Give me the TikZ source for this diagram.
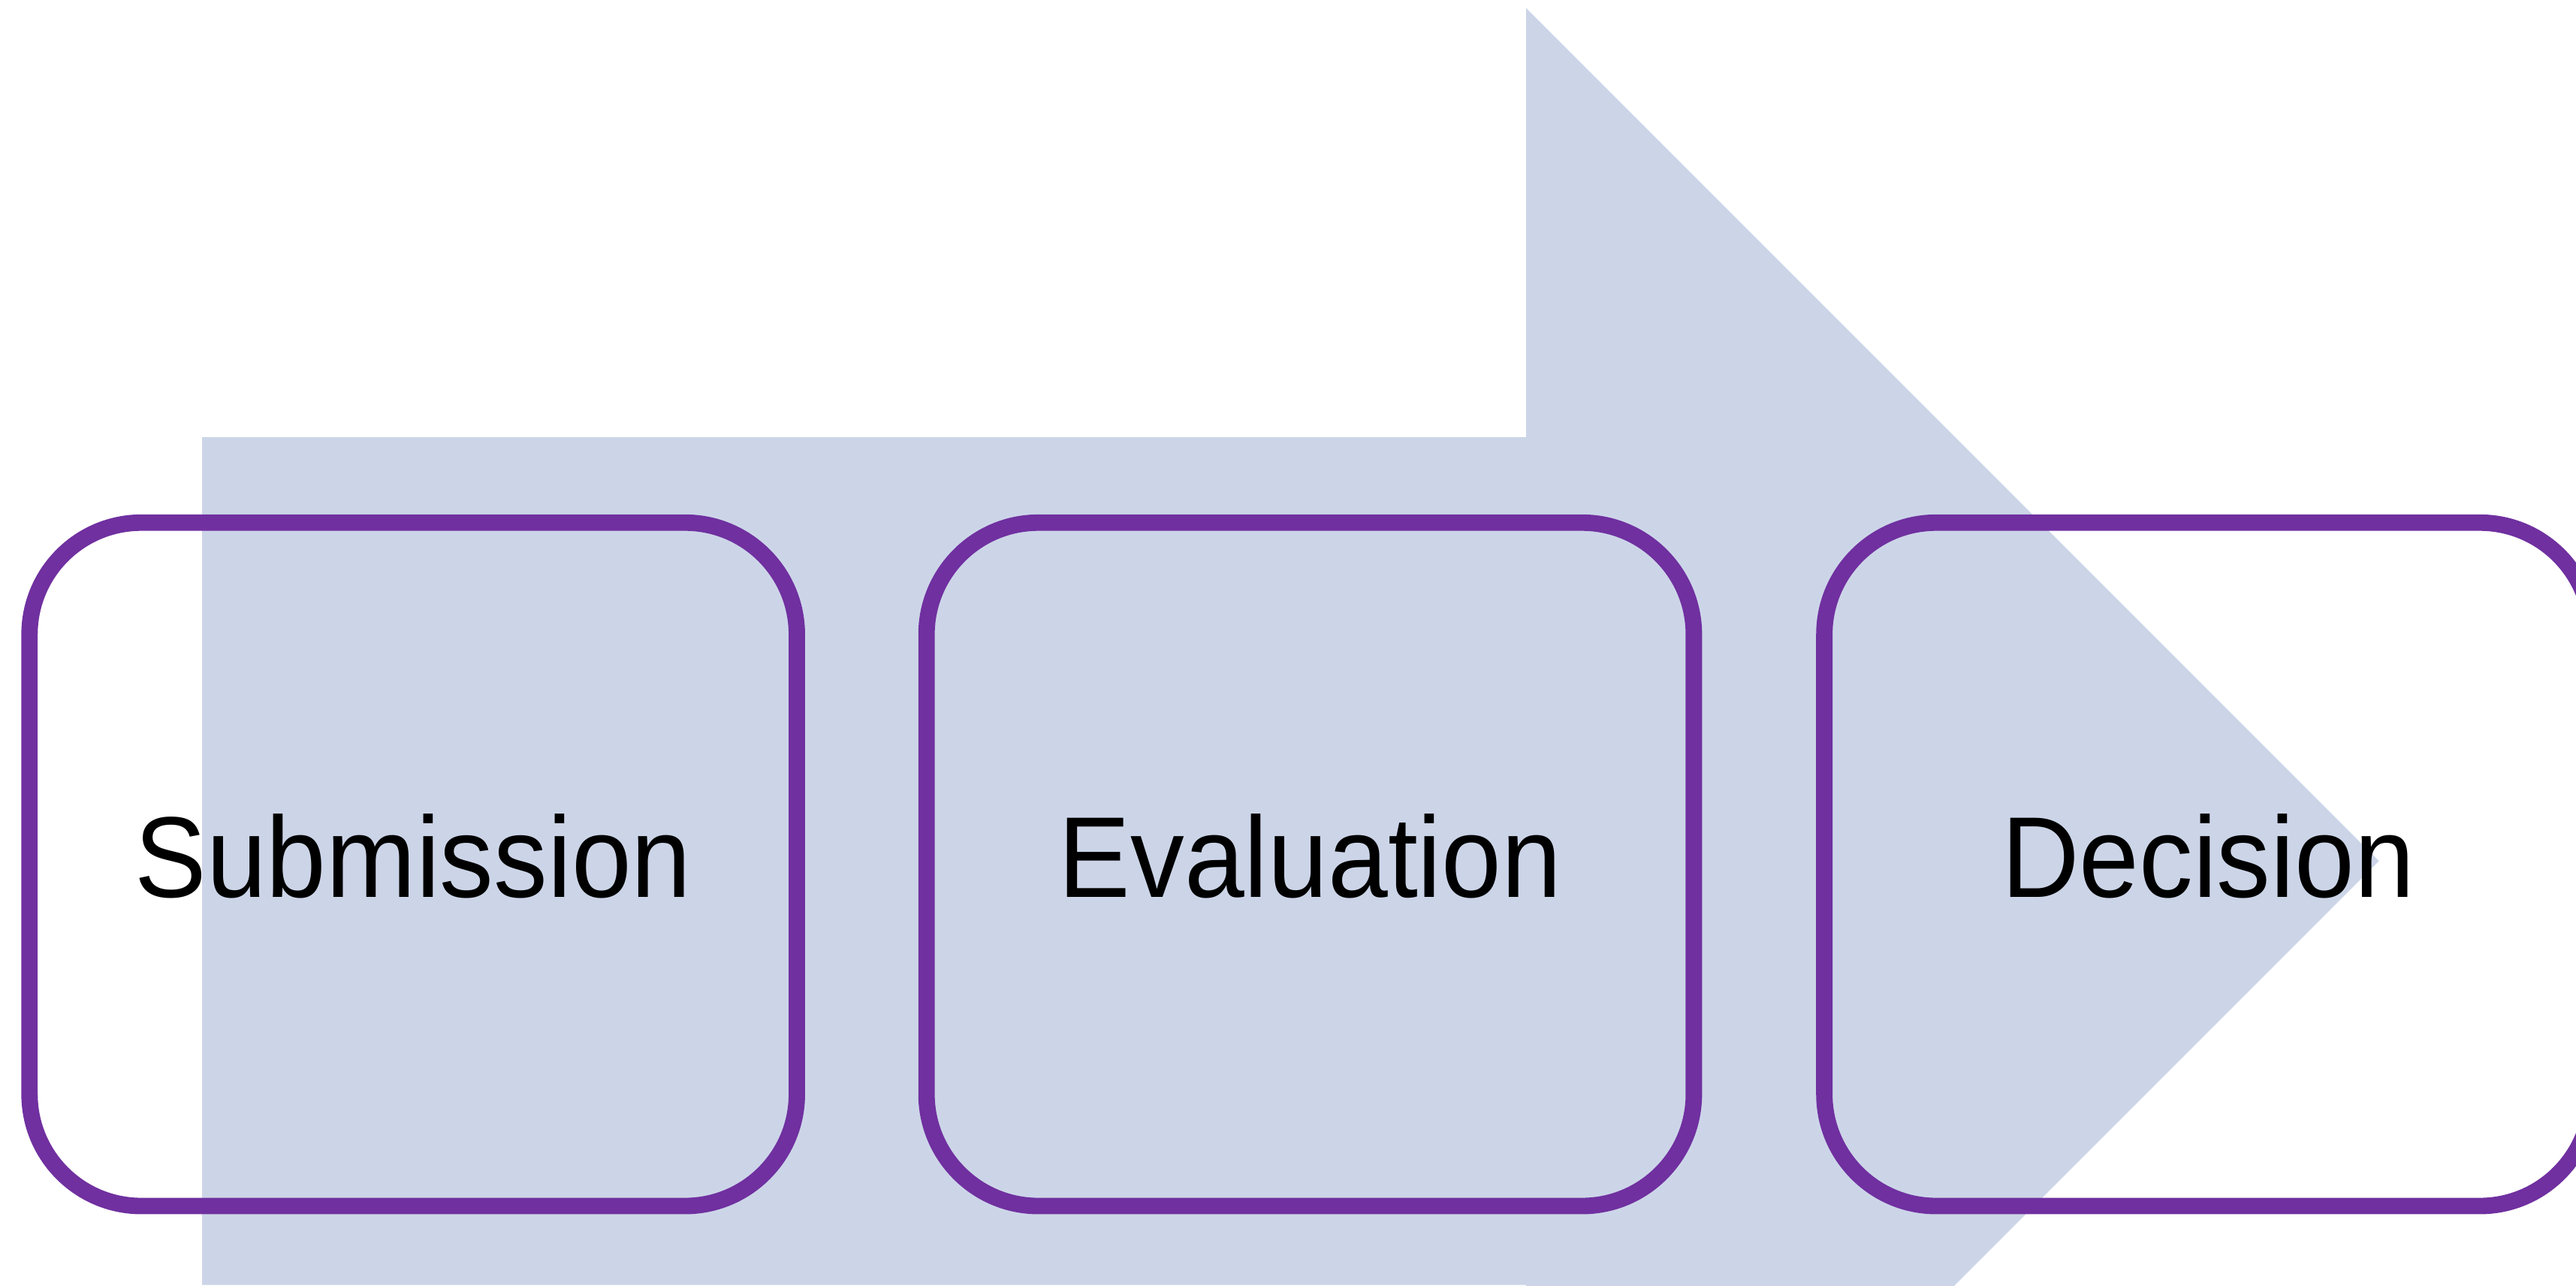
\documentclass[tikz,border=0pt]{standalone}
\usepackage{graphicx}
\usepackage{fontspec}
\setmainfont{Liberation Sans}
\definecolor{arrowfill}{HTML}{CCD5E8}
\definecolor{boxline}{HTML}{7030A0}
\newcommand\tallword[1]{\scalebox{1}[1.068]{#1}}
\begin{document}
\begin{tikzpicture}[x=0.021875cm, y=-0.021875cm,
  stagebox/.style={draw=boxline, line width=0.21875cm, fill=none,
    rectangle, rounded corners=1.49cm, minimum width=10.22cm, minimum height=9.1cm,
    inner sep=0pt, outer sep=0pt, font=\fontsize{40.8}{48}\selectfont,
    text height=30pt, text depth=5.1pt}]
\useasboundingbox (0,0) rectangle (1568,782.6);
\clip (0,0) rectangle (1568,782.6);
\fill[arrowfill] (123,266) -- (929,266) -- (929,5) -- (1448,524) -- (929,1043) -- (929,782) -- (123,782) -- cycle;
\node[stagebox] (sub) at (251.5,526) {\tallword{Submission}};
\node[stagebox] (eva) at (797.5,526) {\tallword{Evaluation}};
\node[stagebox] (dec) at (1344,526) {\tallword{Decision}};
\end{tikzpicture}
\end{document}
